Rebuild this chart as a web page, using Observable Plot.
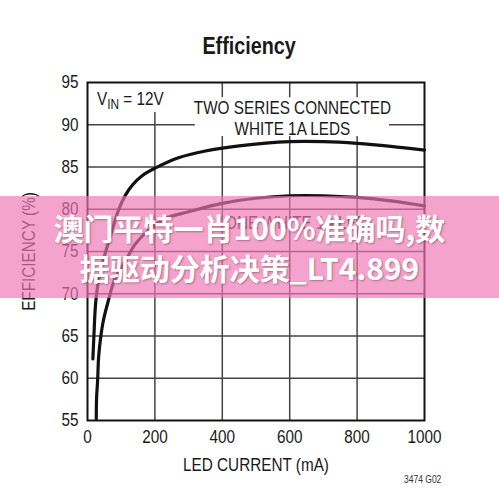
<!DOCTYPE html>
<html>
<head>
<meta charset="utf-8">
<script src="https://cdn.jsdelivr.net/npm/d3@7"></script>
<script src="https://cdn.jsdelivr.net/npm/@observablehq/plot@0.6"></script>
<style>
  html, body { margin: 0; padding: 0; background: #fff; }
  #wrap { position: relative; width: 499px; height: 495px; overflow: hidden; background: #fff; }
  #title { position: absolute; left: 0; width: 499px; top: 33px; text-align: center;
    font-family: "Liberation Sans", sans-serif; font-weight: bold; font-size: 23px; color: #1a1a1a;
    transform: scaleX(0.86); transform-origin: 247px 0; }
  #chart { position: absolute; left: 0; top: 0; }
  #code { position: absolute; left: 404px; top: 474px; font-family: "Liberation Sans", sans-serif; font-size: 10px; color: #333;
    transform: scaleX(0.85); transform-origin: 0 0; }
  #banner { position: absolute; left: 0; top: 196px; width: 499px; height: 102px;
    background: rgba(239,119,179,0.67); display: flex; align-items: center; justify-content: center; }
  #banner div { font-family: "Noto Sans CJK SC", sans-serif; font-weight: 700; font-size: 30px; line-height: 40px;
    color: #fff; text-align: center; text-shadow: 1px 1px 2px rgba(90,40,60,0.45); }
</style>
</head>
<body>
<div id="wrap">
  <div id="chart"></div>
  <div id="title">Efficiency</div>
  <div id="code">3474 G02</div>
  <div id="banner"><div>澳门平特一肖100%准确吗,数<br>据驱动分析决策_LT4.899</div></div>
</div>
<script>
// Data
const xTicks = [0, 200, 400, 600, 800, 1000];
const yTicks = [55, 60, 65, 70, 75, 80, 85, 90, 95];

// Two series connected white 1A LEDs
const twoCurrent = [16, 19, 24, 32, 47, 68, 92, 113, 134, 163, 202, 270, 350, 450, 600, 700, 800, 900, 1000];
const twoEff     = [62.3, 65.0, 68.8, 71.4, 74.0, 76.8, 79.9, 81.7, 82.9, 84.0, 84.9, 86.1, 86.9, 87.5, 88.0, 88.0, 87.8, 87.45, 87.0];

// One white 1A LED
const oneCurrent = [26, 27, 30, 33, 39, 47, 62, 80, 113, 142, 181, 231, 300, 400, 500, 600, 700, 800, 900, 1000];
const oneEff     = [55.2, 57.7, 59.7, 62.5, 64.8, 66.8, 69.2, 71.6, 73.9, 75.9, 77.5, 78.9, 79.7, 80.7, 81.3, 81.6, 81.6, 81.4, 81.0, 80.4];

// Annotation boxes (white backgrounds behind labels) and labels
const boxX1 = [0, 320];
const boxX2 = [246, 896];
const boxY1 = [91.45, 88.6];
const boxY2 = [95, 93.2];
const labelText = ["TWO SERIES CONNECTED", "WHITE 1A LEDS", "ONE WHITE 1A LED"];
const labelX = [608, 608, 620];
const labelY = [92.0, 89.5, 78.4];

const twoData = twoCurrent.map((c, i) => ({c, e: twoEff[i]}));
const oneData = oneCurrent.map((c, i) => ({c, e: oneEff[i]}));
const boxes = boxX1.map((x1, i) => ({x1, x2: boxX2[i], y1: boxY1[i], y2: boxY2[i]}));
const labels = labelText.map((t, i) => ({t, x: labelX[i], y: labelY[i]}));

const font = "'Liberation Sans', Arial, sans-serif";

const plot = Plot.plot({
  width: 499,
  height: 495,
  marginLeft: 87,
  marginRight: 75,
  marginTop: 82,
  marginBottom: 75,
  style: { fontFamily: font, fontSize: "18px", color: "#1a1a1a", background: "transparent" },
  x: { domain: [0, 1000] },
  y: { domain: [55, 95] },
  marks: [
    Plot.gridX(xTicks.slice(1, -1), { stroke: "#444", strokeOpacity: 1, strokeWidth: 1.5 }),
    Plot.gridY(yTicks.slice(1, -1), { stroke: "#444", strokeOpacity: 1, strokeWidth: 1.5 }),
    Plot.rect(boxes, { x1: "x1", x2: "x2", y1: "y1", y2: "y2", fill: "white" }),
    Plot.frame({ stroke: "#111", strokeWidth: 2 }),
    Plot.line(twoData, { x: "c", y: "e", stroke: "#111", strokeWidth: 3.2, curve: "catmull-rom" }),
    Plot.line(oneData, { x: "c", y: "e", stroke: "#111", strokeWidth: 3.2, curve: "catmull-rom" }),
    Plot.text(labels, { x: "x", y: "y", text: "t", fontSize: 18, fill: "#1a1a1a", fontFamily: font }),
    Plot.axisX({ ticks: xTicks, tickSize: 0, tickPadding: 10, fontSize: 18, tickFormat: d3.format("d"),
      label: "LED CURRENT (mA)", labelAnchor: "center", labelArrow: "none", labelOffset: 50 }),
    Plot.axisY({ ticks: yTicks, tickSize: 0, tickPadding: 9, fontSize: 18,
      label: "EFFICIENCY (%)", labelAnchor: "center", labelArrow: "none", labelOffset: 65 })
  ]
});
document.getElementById("chart").appendChild(plot);

// Condensed look: compress glyphs horizontally
d3.select(plot).selectAll("text").each(function () {
  const len = this.getComputedTextLength();
  if (len > 0) {
    this.setAttribute("textLength", (len * 0.85).toFixed(1));
    this.setAttribute("lengthAdjust", "spacingAndGlyphs");
  }
});

// V_IN = 12V label with subscript
const sx = plot.scale("x"), sy = plot.scale("y");
const t = d3.select(plot).append("text")
  .attr("x", sx.apply(0) + 10).attr("y", sy.apply(92.3))
  .attr("text-anchor", "start")
  .attr("font-family", font).attr("font-size", 18).attr("fill", "#1a1a1a")
  .attr("transform", `translate(${sx.apply(0) + 10},0) scale(0.85,1) translate(${-(sx.apply(0) + 10)},0)`);
t.append("tspan").text("V");
t.append("tspan").attr("dy", 4).attr("font-size", 14).text("IN");
t.append("tspan").attr("dy", -4).text(" = 12V");
</script>
</body>
</html>
